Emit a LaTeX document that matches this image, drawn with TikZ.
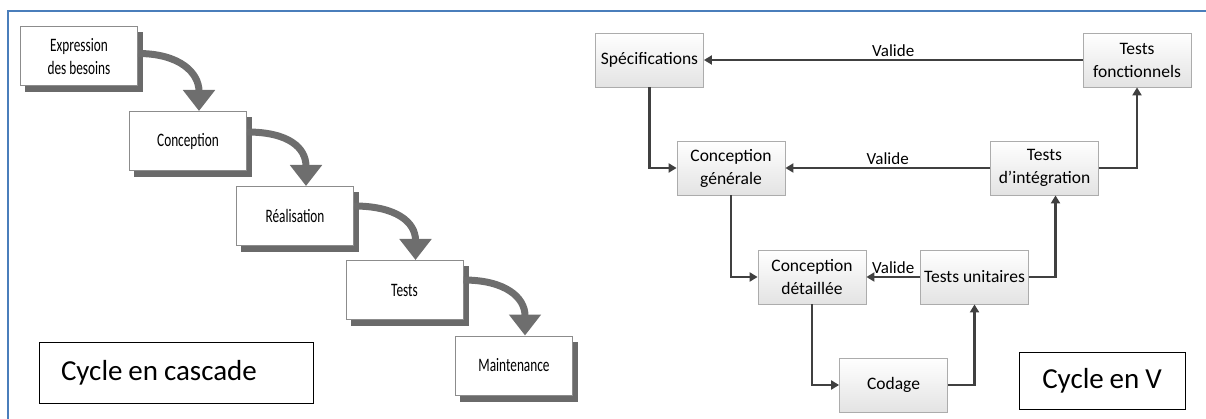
\documentclass[tikz,border=0pt]{standalone}
\usepackage{fontspec}
\setmainfont{Carlito}
\newfontfamily\condfont[FakeStretch=0.7]{Carlito}
\newfontfamily\capfont[WordSpace=0.9]{Carlito}
\usetikzlibrary{arrows.meta,calc,backgrounds}
\definecolor{frameblue}{HTML}{4A7EBB}
\definecolor{cascgray}{HTML}{6E6E6E}
\definecolor{shadowgray}{HTML}{6A6A6A}
\definecolor{boxedge}{HTML}{8C8C8C}
\definecolor{vline}{HTML}{404040}
\begin{document}
\begin{tikzpicture}[x=1pt,y=-1pt,
  stage/.style={draw=boxedge, line width=1pt, fill=white, minimum width=117pt,
    minimum height=59pt, inner sep=0pt, align=center,
    font=\condfont\fontsize{19}{23}\selectfont},
  cascarrow/.style={draw=cascgray, line width=7pt, -{Triangle[width=31pt,length=21pt]}},
  vbox/.style={draw=gray!65, line width=0.8pt, top color=white, bottom color=gray!22,
    minimum width=108pt, minimum height=54pt, inner sep=0pt, align=center,
    font=\fontsize{17.5}{23}\selectfont},
  varrow/.style={draw=vline, line width=2.3pt, -{Triangle[width=9pt,length=8pt]}},
  vlabel/.style={font=\fontsize{17}{20}\selectfont, above, inner sep=2pt},
  caption/.style={draw=black, line width=0.9pt, fill=white, inner sep=0pt,
    font=\capfont\fontsize{29}{34}\selectfont}
]
\useasboundingbox (0,0) rectangle (1206,419);

% outer frame (top and left edges)
\draw[frameblue, line width=2.5pt] (8,419) -- (8,11) -- (1206,11);

% ---- waterfall model ----
\node[stage] (b1) at (79,56.5) {Expression\\des besoins};
\node[stage] (b2) at (188,141) {Conception};
\node[stage] (b3) at (295,216) {Réalisation};
\node[stage] (b4) at (404.5,290) {Tests};
\node[stage] (b5) at (514,365.5) {Maintenance};

\begin{scope}[on background layer]
  \foreach \b in {b1,b2,b3,b4,b5}
    \fill[shadowgray] ($(\b.north west)+(5,6)$) rectangle ($(\b.south east)+(5,6)$);
\end{scope}

\draw[cascarrow] ($(b1.east)+(0,-3)$) .. controls +(42,0) and +(0,-38) .. ($(b2.north)+(11,0)$);
\draw[cascarrow] ($(b2.east)+(0,-9)$) .. controls +(42,0) and +(0,-38) .. ($(b3.north)+(11,0)$);
\draw[cascarrow] ($(b3.east)+(0,-10)$) .. controls +(42,0) and +(0,-38) .. ($(b4.north)+(11,0)$);
\draw[cascarrow] ($(b4.east)+(0,-10)$) .. controls +(42,0) and +(0,-38) .. ($(b5.north)+(11,0)$);

\node[caption, minimum width=274pt, minimum height=61pt]
  (cascade) at (176,372.5) {\makebox[230pt][l]{Cycle en cascade}};

% ---- V model ----
\node[vbox] (spec) at (649.5,60) {Spécifications};
\node[vbox] (tf)   at (1137,60) {Tests\\fonctionnels};
\node[vbox] (cg)   at (731,168) {Conception\\générale};
\node[vbox] (ti)   at (1044.5,168) {Tests\\d’intégration};
\node[vbox] (cd)   at (812,277) {Conception\\détaillée};
\node[vbox] (tu)   at (974.5,277) {Tests unitaires};
\node[vbox] (cod)  at (893.5,385) {Codage};

\draw[varrow] (tf.west) -- node[vlabel] {Valide} (spec.east);
\draw[varrow] (spec.south) |- (cg.west);
\draw[varrow] (ti.west) -- node[vlabel] {Valide} (cg.east);
\draw[varrow] (ti.east) -| (tf.south);
\draw[varrow] (cg.south) |- (cd.west);
\draw[varrow] (tu.west) -- node[vlabel] {Valide} (cd.east);
\draw[varrow] (tu.east) -| ($(ti.south)+(11,0)$);
\draw[varrow] (cd.south) |- (cod.west);
\draw[varrow] (cod.east) -| (tu.south);

\node[caption, minimum width=166pt, minimum height=57pt] (vcap) at (1102,380.5) {Cycle en V};
\end{tikzpicture}
\end{document}
